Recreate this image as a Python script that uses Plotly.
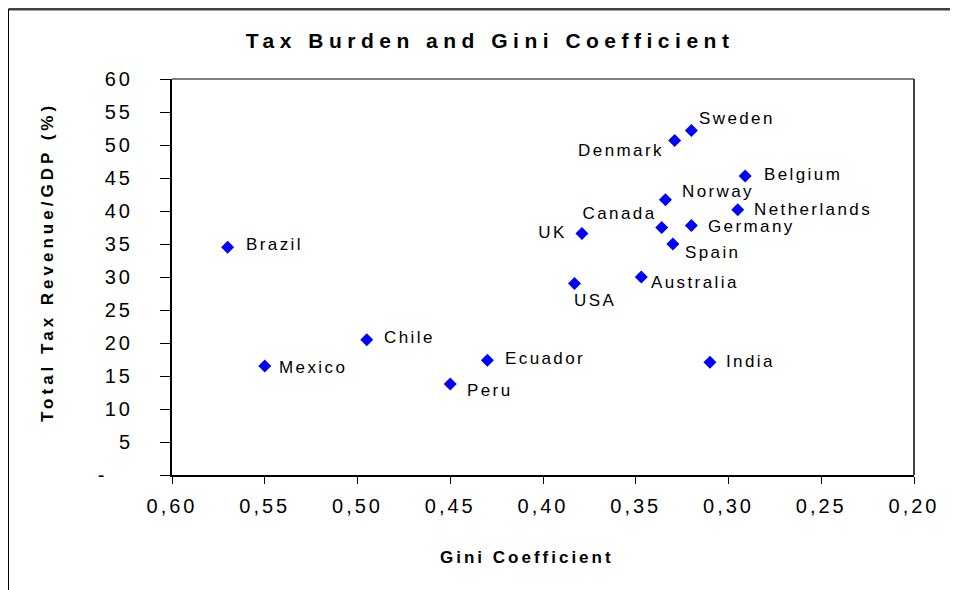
import json
import plotly.graph_objects as go

# ---- data ----
countries = ["Brazil", "Mexico", "Chile", "Peru", "Ecuador", "USA", "UK", "Australia",
             "Canada", "Spain", "Norway", "Denmark", "Sweden", "Germany", "Netherlands",
             "Belgium", "India"]
gini = [0.570, 0.550, 0.495, 0.450, 0.430, 0.383, 0.379, 0.347,
        0.336, 0.330, 0.334, 0.329, 0.320, 0.320, 0.295,
        0.291, 0.310]
tax_gdp = [34.5, 16.5, 20.5, 13.8, 17.4, 29.0, 36.6, 30.0,
           37.5, 35.0, 41.7, 50.7, 52.2, 37.8, 40.2,
           45.3, 17.1]

x_tickvals = [0.60, 0.55, 0.50, 0.45, 0.40, 0.35, 0.30, 0.25, 0.20]
x_ticktext = ["0,60", "0,55", "0,50", "0,45", "0,40", "0,35", "0,30", "0,25", "0,20"]
y_tickvals = [0, 5, 10, 15, 20, 25, 30, 35, 40, 45, 50, 55, 60]
y_ticktext = ["-\u00a0\u00a0\u00a0", "5", "10", "15", "20", "25", "30", "35",
              "40", "45", "50", "55", "60"]

title_text = "Tax Burden and Gini Coefficient"
x_title = "Gini Coefficient"
y_title = "Total Tax Revenue/GDP (%)"

# label placement (anchor, xshift px, yshift px)
label_style = {
    "Brazil": ("left", 16, 3), "Mexico": ("left", 12, -1), "Chile": ("left", 15, 2),
    "Peru": ("left", 15, -7), "Ecuador": ("left", 16, 2), "USA": ("left", -3, -17),
    "UK": ("right", -16, 1), "Australia": ("left", 8, -5), "Canada": ("right", -6, 14),
    "Spain": ("left", 10, -8), "Norway": ("left", 15, 8), "Denmark": ("right", -12, -10),
    "Sweden": ("left", 6, 12), "Germany": ("left", 15, -1), "Netherlands": ("left", 14, 0),
    "Belgium": ("left", 17, 2), "India": ("left", 14, 1),
}

FONT = "Liberation Sans, Arial, sans-serif"
OFF = 8  # page body margin
W, H = 958 - OFF, 590 - OFF
L, T = 172 - OFF, 79 - OFF
R = W - (914 - OFF)
B = H - (475 - OFF)
pw, ph = W - L - R, H - T - B


def px2paper(sx, sy):
    fx, fy = sx - OFF, sy - OFF
    return (fx - L) / pw, 1 - (fy - T) / ph


fig = go.Figure()
fig.add_trace(go.Scatter(
    x=gini, y=tax_gdp, mode="markers",
    marker=dict(symbol="diamond", size=10, color="#0000FF", line=dict(width=0)),
    hoverinfo="skip", showlegend=False,
))

annotations = []
spacing = []  # (letter spacing px, anchor) per annotation
for c, gx, ty in zip(countries, gini, tax_gdp):
    anchor, dx, dy = label_style[c]
    annotations.append(dict(
        x=gx, y=ty, xref="x", yref="y", text=c, showarrow=False,
        xanchor=anchor, yanchor="middle", xshift=dx, yshift=dy,
        font=dict(family=FONT, size=17, color="#000000"),
    ))
    spacing.append((2.4, anchor))

tx, ty_ = px2paper(490, 40)
annotations.append(dict(
    x=tx, y=ty_, xref="paper", yref="paper", text=f"<b>{title_text}</b>", showarrow=False,
    xanchor="center", yanchor="middle", font=dict(family=FONT, size=21, color="#000000"),
))
spacing.append((5.5, "center"))
tx, ty_ = px2paper(527, 557)
annotations.append(dict(
    x=tx, y=ty_, xref="paper", yref="paper", text=f"<b>{x_title}</b>", showarrow=False,
    xanchor="center", yanchor="middle", font=dict(family=FONT, size=17, color="#000000"),
))
spacing.append((3.0, "center"))
tx, ty_ = px2paper(47, 262)
annotations.append(dict(
    x=tx, y=ty_, xref="paper", yref="paper", text=f"<b>{y_title}</b>", showarrow=False,
    textangle=-90, xanchor="center", yanchor="middle",
    font=dict(family=FONT, size=17, color="#000000"),
))
spacing.append((4.0, "center"))

shapes = []
# plot area top and right borders
shapes.append(dict(type="line", xref="paper", yref="paper", x0=0, x1=1, y0=1, y1=1,
                   line=dict(color="#808080", width=2)))
shapes.append(dict(type="line", xref="paper", yref="paper", x0=1, x1=1, y0=0, y1=1,
                   line=dict(color="#404040", width=2)))
# outer frame (top and left)
fx0 = (0.5 - L) / pw
fx1 = (W - L) / pw
fy0 = 1 - (1 - T) / ph
fy1 = 1 - (H - T) / ph
shapes.append(dict(type="line", xref="paper", yref="paper", x0=fx0, x1=fx1, y0=fy0, y1=fy0,
                   line=dict(color="#404040", width=3)))
shapes.append(dict(type="line", xref="paper", yref="paper", x0=fx0, x1=fx0, y0=fy0, y1=fy1,
                   line=dict(color="#000000", width=1)))

fig.update_layout(
    width=W, height=H,
    margin=dict(l=L, r=R, t=T, b=B, pad=0),
    paper_bgcolor="white", plot_bgcolor="white",
    annotations=annotations, shapes=shapes,
    xaxis=dict(range=[0.60, 0.20], tickvals=x_tickvals, ticktext=x_ticktext,
               showgrid=False, zeroline=False, showline=True, linecolor="black", linewidth=2,
               ticks="outside", ticklen=7, tickcolor="black", tickwidth=1,
               ticklabelstandoff=5,
               tickfont=dict(family=FONT, size=20, color="black")),
    yaxis=dict(range=[0, 60], tickvals=y_tickvals, ticktext=y_ticktext,
               showgrid=False, zeroline=False, showline=True, linecolor="black", linewidth=2,
               ticks="outside", ticklen=10, tickcolor="black", tickwidth=1,
               ticklabelstandoff=26,
               tickfont=dict(family=FONT, size=20, color="black")),
)

post = """
var gd = document.getElementById('{plot_id}');
var SP = %s;
gd.querySelectorAll('g.annotation').forEach(function(g){
  var idx = +g.getAttribute('data-index');
  var s = SP[idx]; if(!s) return;
  var t = g.querySelector('text.annotation-text');
  if(!t || t.getAttribute('data-tracked')) return;
  var b0 = t.getBBox();
  t.style.letterSpacing = s[0] + 'px';
  var b1 = t.getBBox();
  var dx = 0;
  if (s[1] === 'left') dx = b0.x - b1.x;
  else if (s[1] === 'right') dx = (b0.x + b0.width) - (b1.x + b1.width) + s[0];
  if (dx) t.setAttribute('x', (+t.getAttribute('x') || 0) + dx);
  t.setAttribute('data-tracked', '1');
});
gd.querySelectorAll('g.xtick text').forEach(function(t){ t.style.letterSpacing = '3px'; });
gd.querySelectorAll('g.ytick text').forEach(function(t){
  if(t.getAttribute('data-tracked')) return;
  t.style.letterSpacing = '3px';
  t.setAttribute('x', (+t.getAttribute('x') || 0) + 3);
  t.setAttribute('data-tracked', '1');
});
""" % json.dumps(spacing)

fig.write_html("out.html", post_script=post)
